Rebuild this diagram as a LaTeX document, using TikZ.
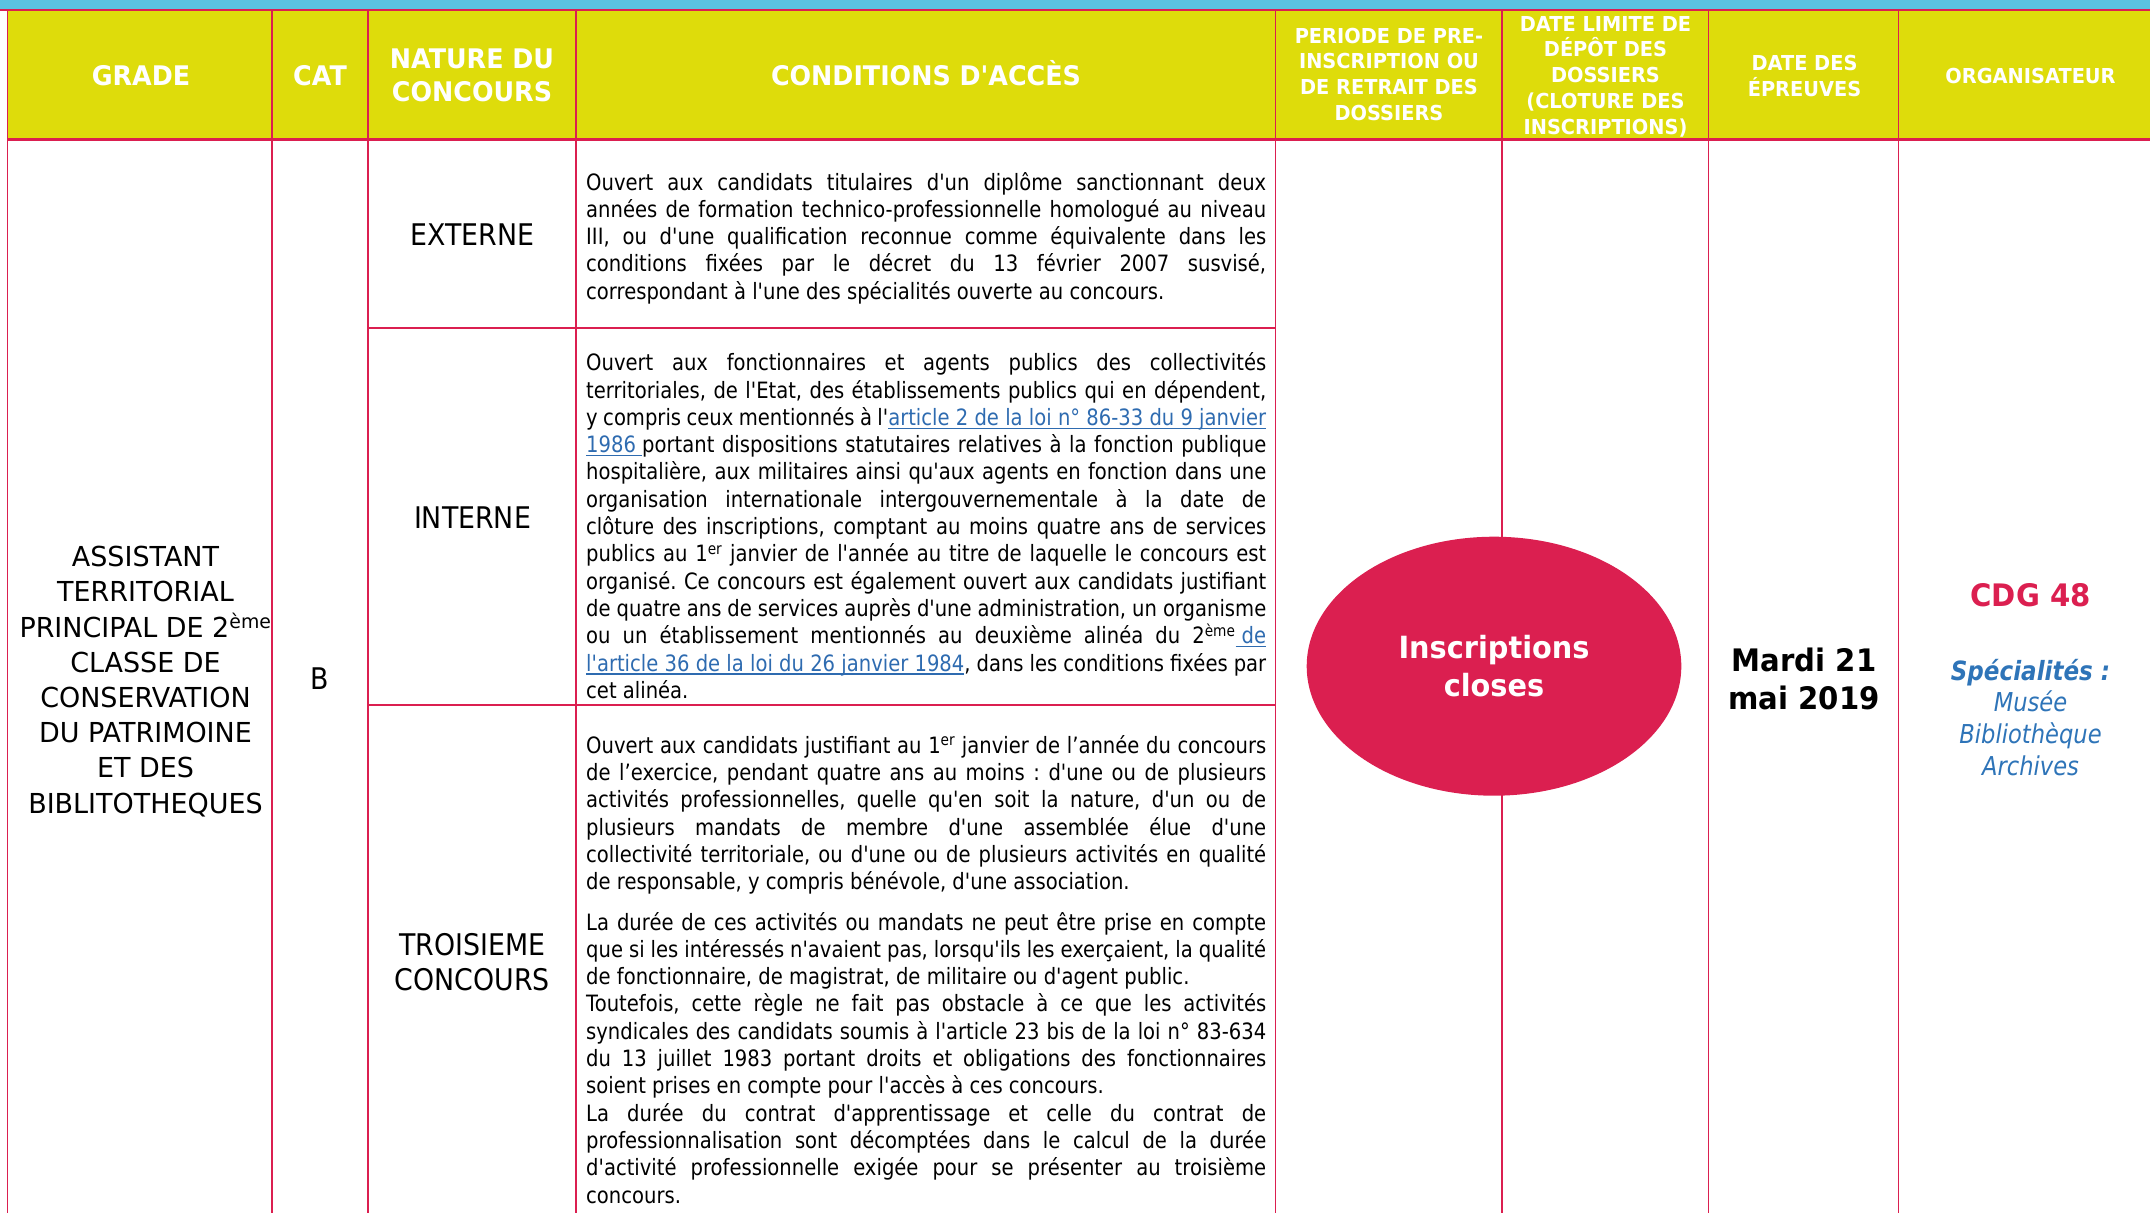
\documentclass[tikz,border=0pt]{standalone}
\usepackage{fontspec}
\usetikzlibrary{shapes.geometric}
\setmainfont{DejaVu Sans}
\newfontfamily\bodyfont{DejaVu Sans}[FakeStretch=0.87]
\newfontfamily\gradefont{DejaVu Sans}[FakeStretch=0.98]
\newfontfamily\naturefont{DejaVu Sans}[FakeStretch=0.9]
\newfontfamily\headfont{DejaVu Sans}[FakeStretch=0.94]
\definecolor{bandblue}{HTML}{5BC3E0}
\definecolor{headyellow}{HTML}{DEDC0B}
\definecolor{gridred}{HTML}{DB1F50}
\definecolor{linkblue}{HTML}{2E6BB0}
\definecolor{specblue}{HTML}{2E74B8}
\frenchspacing
\tolerance=10000 \hbadness=10000
\hyphenpenalty=10000 \exhyphenpenalty=10000
\newcommand\lien[1]{{\color{linkblue}\setbox0\hbox{#1}\rlap{\rule[-3.5pt]{\wd0}{1.3pt}}\box0}}

\begin{document}
\begin{tikzpicture}[x=1pt,y=-1pt]
\tikzstyle{vline} = [draw=gridred, line width=1.5pt]
\tikzstyle{hline} = [draw=gridred, line width=2pt]
\tikzstyle{head} = [text=white, inner sep=0pt, align=center, font=\headfont\bfseries\fontsize{27}{32.6}\selectfont]
\tikzstyle{smallhead} = [head, font=\headfont\bfseries\fontsize{20.6}{25.7}\selectfont]
\tikzstyle{nature} = [inner sep=0pt, align=center, font=\naturefont\fontsize{29.8}{34.4}\selectfont]
\tikzstyle{para} = [inner sep=0pt, text width=680pt, align=justify, anchor=base west, font=\bodyfont\fontsize{22.5}{27.3}\selectfont]

\useasboundingbox (0,0) rectangle (2150,1213);

% header band
\fill[bandblue] (0,0) rectangle (2150,10);
\fill[headyellow] (7,10) rectangle (2150,139.5);
\draw[hline, line width=2.5pt] (0,10) -- (2150,10);
\draw[hline, line width=2.5pt] (7,139.5) -- (2150,139.5);

% columns
\foreach \cx in {7.4,272,368,576,1275.7,1501.8,1708.4,1898.5}
  \draw[vline] (\cx,10) -- (\cx,1213);
\draw[hline] (368,327.7) -- (1275.7,327.7);
\draw[hline] (368,704.5) -- (1275.7,704.5);

% header texts
\node[head, anchor=base] (h_grade) at (141,85) {GRADE};
\node[head, anchor=base] (h_cat) at (320,85) {CAT};
\node[head] (h_nature) at (472,75.5) {NATURE DU\\CONCOURS};
\node[head, anchor=base] (h_cond) at (926,85) {CONDITIONS D'ACCÈS};
\node[smallhead] (h_periode) at (1389,74.2) {PERIODE DE PRE-\\INSCRIPTION OU\\DE RETRAIT DES\\DOSSIERS};
\node[smallhead] (h_limite) at (1605.5,76.5) {DATE LIMITE DE\\DÉPÔT DES\\DOSSIERS\\(CLOTURE DES\\INSCRIPTIONS)};
\node[smallhead] (h_epreuves) at (1804.5,75.8) {DATE DES\\ÉPREUVES};
\node[smallhead, anchor=base] (h_orga) at (2030.5,83.3) {ORGANISATEUR};

% grade and category
\node[inner sep=0pt, align=center, font=\gradefont\fontsize{27.5}{35.2}\selectfont] (grade) at (145.5,681.5)
  {ASSISTANT\\TERRITORIAL\\PRINCIPAL DE 2\textsuperscript{ème}\\CLASSE DE\\CONSERVATION\\DU PATRIMOINE\\ET DES\\BIBLITOTHEQUES};
\node[nature, anchor=base] (cat) at (320,689.3) {B};

% nature du concours
\node[nature, anchor=base] (externe) at (472.5,245) {EXTERNE};
\node[nature, anchor=base] (interne) at (472.5,528.3) {INTERNE};
\node[nature] (troisieme) at (472.5,962) {TROISIEME\\CONCOURS};

% conditions d'acces
\node[para] (c_externe) at (586,190) {Ouvert aux candidats titulaires d'un diplôme sanctionnant deux\linebreak
années de formation technico-professionnelle homologué au niveau\linebreak
III, ou d'une qualification reconnue comme équivalente dans les\linebreak
conditions fixées par le décret du 13 février 2007 susvisé,\linebreak
correspondant à l'une des spécialités ouverte au concours.};

\node[para] (c_interne) at (586,370.7) {Ouvert aux fonctionnaires et agents publics des collectivités\linebreak
territoriales, de l'Etat, des établissements publics qui en dépendent,\linebreak
y compris ceux mentionnés à l'\lien{article 2 de la loi n° 86-33 du 9 janvier}\linebreak
\lien{1986 }portant dispositions statutaires relatives à la fonction publique\linebreak
hospitalière, aux militaires ainsi qu'aux agents en fonction dans une\linebreak
organisation internationale intergouvernementale à la date de\linebreak
clôture des inscriptions, comptant au moins quatre ans de services\linebreak
publics au 1\textsuperscript{er} janvier de l'année au titre de laquelle le concours est\linebreak
organisé. Ce concours est également ouvert aux candidats justifiant\linebreak
de quatre ans de services auprès d'une administration, un organisme\linebreak
ou un établissement mentionnés au deuxième alinéa du 2\textsuperscript{ème}\lien{ de}\linebreak
\lien{l'article 36 de la loi du 26 janvier 1984}, dans les conditions fixées par\linebreak
cet alinéa.};

\node[para] (c_troisieme) at (586,753.3) {Ouvert aux candidats justifiant au 1\textsuperscript{er} janvier de l’année du concours\linebreak
de l’exercice, pendant quatre ans au moins : d'une ou de plusieurs\linebreak
activités professionnelles, quelle qu'en soit la nature, d'un ou de\linebreak
plusieurs mandats de membre d'une assemblée élue d'une\linebreak
collectivité territoriale, ou d'une ou de plusieurs activités en qualité\linebreak
de responsable, y compris bénévole, d'une association.};

\node[para] (c_duree) at (586,930) {La durée de ces activités ou mandats ne peut être prise en compte\linebreak
que si les intéressés n'avaient pas, lorsqu'ils les exerçaient, la qualité\linebreak
de fonctionnaire, de magistrat, de militaire ou d'agent public.\newline
Toutefois, cette règle ne fait pas obstacle à ce que les activités\linebreak
syndicales des candidats soumis à l'article 23 bis de la loi n° 83-634\linebreak
du 13 juillet 1983 portant droits et obligations des fonctionnaires\linebreak
soient prises en compte pour l'accès à ces concours.\newline
La durée du contrat d'apprentissage et celle du contrat de\linebreak
professionnalisation sont décomptées dans le calcul de la durée\linebreak
d'activité professionnelle exigée pour se présenter au troisième\linebreak
concours.};

% inscriptions, dates, organisateur
\node[ellipse, fill=gridred, minimum width=374.6pt, minimum height=259pt, inner sep=0pt] (closed) at (1494,666.2) {};
\node[inner sep=0pt, align=center, text=white, font=\headfont\bfseries\fontsize{30.6}{38.4}\selectfont] (closed_txt) at (closed) {Inscriptions\\closes};
\node[inner sep=0pt, align=center, font=\headfont\bfseries\fontsize{31}{38.3}\selectfont] (epreuves) at (1804,679) {Mardi 21\\mai 2019};
\node[inner sep=0pt, anchor=base, text=gridred, font=\headfont\bfseries\fontsize{31}{36}\selectfont] (orga) at (2030.5,606.7) {CDG 48};
\node[inner sep=0pt, anchor=base, text=specblue, font=\bodyfont\bfseries\itshape\fontsize{26.5}{31.7}\selectfont] (spec) at (2030.5,680) {Spécialités :};
\node[inner sep=0pt, anchor=base, text=specblue, font=\bodyfont\itshape\fontsize{26}{31.7}\selectfont] (musee) at (2030.5,711.7) {Musée};
\node[inner sep=0pt, anchor=base, text=specblue, font=\bodyfont\itshape\fontsize{26}{31.7}\selectfont] (biblio) at (2030.5,743.3) {Bibliothèque};
\node[inner sep=0pt, anchor=base, text=specblue, font=\bodyfont\itshape\fontsize{26}{31.7}\selectfont] (archives) at (2030.5,775) {Archives};
\end{tikzpicture}
\end{document}
